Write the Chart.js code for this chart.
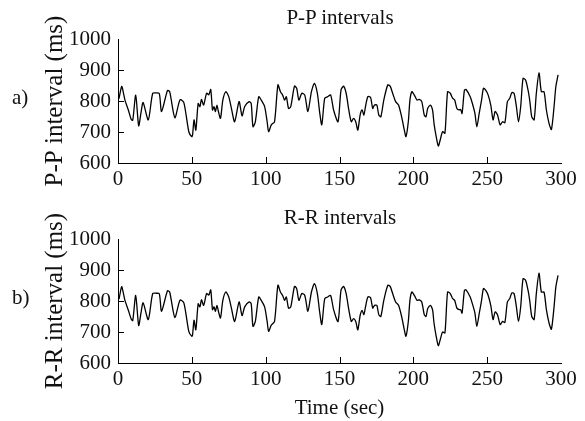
<!DOCTYPE html>
<html>
<head>
<meta charset="utf-8">
<script src="https://cdn.jsdelivr.net/npm/chart.js@4"></script>
<style>
  body { margin: 0; background: #fff; width: 585px; height: 421px; overflow: hidden; position: relative; font-family: "Liberation Serif", serif; }
  canvas { position: absolute; left: 0; }
  .lbl { position: absolute; font-size: 21px; line-height: 1; color: #111; white-space: nowrap; }
  .mid { transform: translateX(-50%); }
</style>
</head>
<body>
<canvas id="ppChart" width="585" height="200" style="top:0"></canvas>
<canvas id="rrChart" width="585" height="221" style="top:200px"></canvas>
<div class="lbl" style="left:12px;top:87px">a)</div>
<div class="lbl" style="left:12px;top:287px">b)</div>
<div class="lbl mid" style="left:340px;top:7px">P-P intervals</div>
<div class="lbl mid" style="left:340px;top:207px">R-R intervals</div>
<script>
// time stamps (sec)
const times = [0.7, 2.5, 3.6, 4.7, 7, 9, 10, 12, 14, 15.5, 17, 20.5, 23.5, 26, 28, 29.5, 33.5, 35, 38.5, 42, 44.6, 48, 50,
  50.5, 51.5, 52.7, 54.3, 55.5, 56.5, 58, 60, 61.5, 62.8, 64, 65, 66, 67, 68, 69.4, 71, 73, 75, 76.8, 79, 82, 84, 85.8, 88.8, 90.2, 91.4, 93, 95.3, 97, 99.3, 101,
  102, 103.8, 106, 108.3, 110, 111.5, 112.8, 114, 115.5, 117, 119.5, 121, 122.5, 124.5, 126.5, 128.6, 131, 133, 135, 136.5, 138, 140, 142, 144, 146, 149,
  151, 152.7, 154.5, 156.3, 158, 159.5, 161, 162.4, 164, 165.3, 166.5, 167.6, 169.2, 171, 172.5, 173.7, 175.3, 176.6, 178, 180, 182.7, 184.3, 186, 188, 190,
  192.3, 193.9, 195, 196.6, 197.7, 199, 200.7, 202.5, 204, 205.7, 207.4, 208.6, 209.7, 211.5, 213, 214, 215.3, 216.9, 218.2, 219.8, 221.4, 223.2, 225,
  226.6, 228, 229.5, 231, 232, 233, 234.6, 235.7, 238.5, 240, 241.7, 243, 244.6, 246.2, 247.5, 249, 250.7, 252.5, 254, 255.4, 257, 258.8, 260.4, 262,
  263.7, 265.3, 266.7, 268.2, 269.8, 271.2, 272.7, 274.3, 276, 277.7, 278.8, 280.2, 281.8, 283.3, 285.1, 286.7, 288.5, 290.1, 291.9, 293.5, 295.3, 296.5, 298];

// P-P interval (ms)
const ppValues = [808, 847, 828, 803, 771, 740, 738, 819, 720, 760, 795, 739, 825, 826, 824, 766, 834, 830, 746, 804, 795, 700, 685,
  690, 739, 706, 792, 782, 805, 787, 825, 820, 837, 771, 782, 766, 787, 766, 744, 803, 830, 814, 776, 733, 798, 752, 782, 798, 792, 717, 733, 814, 803, 782, 733,
  701, 723, 733, 852, 830, 819, 803, 814, 776, 782, 848, 841, 803, 825, 819, 766, 830, 857, 825, 766, 723, 809, 814, 819, 771, 733,
  835, 848, 825, 771, 733, 744, 733, 706, 755, 771, 755, 782, 814, 812, 776, 787, 787, 755, 749, 803, 852, 848, 825, 798, 787,
  744, 706, 685, 733, 803, 830, 819, 803, 805, 798, 755, 749, 776, 787, 771, 728, 690, 655, 674, 701, 696, 830, 825,
  809, 803, 776, 771, 773, 760, 835, 837, 814, 792, 760, 717, 760, 803, 841, 835, 819, 785, 739, 766, 755, 723, 733, 730,
  798, 809, 827, 825, 782, 733, 782, 873, 868, 835, 803, 749, 739, 825, 891, 830, 830, 771, 728, 708, 782, 846, 884];

// R-R interval (ms)
const rrValues = [806, 846, 826, 802, 770, 741, 737, 818, 721, 759, 794, 740, 824, 825, 823, 767, 833, 829, 747, 803, 794, 701, 686,
  691, 738, 707, 791, 781, 804, 786, 824, 819, 836, 772, 781, 767, 786, 767, 745, 802, 829, 813, 777, 734, 797, 753, 781, 797, 791, 718, 734, 813, 802, 781, 734,
  702, 722, 734, 851, 829, 818, 802, 813, 777, 781, 847, 840, 802, 824, 818, 767, 829, 856, 824, 767, 724, 808, 813, 818, 772, 734,
  834, 847, 824, 772, 734, 743, 734, 707, 754, 770, 756, 781, 813, 811, 777, 786, 786, 756, 750, 802, 851, 847, 824, 797, 786,
  745, 707, 686, 734, 802, 829, 818, 802, 804, 797, 756, 750, 775, 786, 772, 729, 691, 656, 675, 700, 697, 829, 824,
  808, 802, 777, 772, 772, 761, 834, 836, 813, 791, 761, 718, 759, 802, 840, 834, 818, 784, 740, 765, 756, 724, 734, 731,
  797, 808, 826, 824, 781, 734, 781, 872, 867, 834, 802, 750, 740, 824, 890, 829, 829, 772, 729, 709, 781, 845, 883];

const xTicks = [0, 50, 100, 150, 200, 250, 300];
const yTicks = [600, 700, 800, 900, 1000];

const fontFamily = '"Liberation Serif", "DejaVu Serif", serif';

// short tick marks pointing into the plot
const inwardTicks = {
  id: 'inwardTicks',
  afterDraw(chart) {
    const { ctx, chartArea, scales } = chart;
    ctx.save();
    ctx.strokeStyle = '#000';
    ctx.lineWidth = 1;
    ctx.beginPath();
    xTicks.forEach(v => {
      if (v <= scales.x.min || v >= scales.x.max) return;
      const x = Math.round(scales.x.getPixelForValue(v)) + 0.5;
      ctx.moveTo(x, chartArea.bottom);
      ctx.lineTo(x, chartArea.bottom - 6);
    });
    yTicks.forEach(v => {
      if (v <= scales.y.min || v >= scales.y.max) return;
      const y = Math.round(scales.y.getPixelForValue(v)) + 0.5;
      ctx.moveTo(chartArea.left, y);
      ctx.lineTo(chartArea.left + 6, y);
    });
    ctx.stroke();
    ctx.restore();
  }
};

function makePanel(canvasId, values, yTitle, showXTitle) {
  new Chart(document.getElementById(canvasId), {
    type: 'line',
    data: {
      datasets: [{
        data: times.map((t, i) => ({ x: t, y: values[i] })),
        borderColor: '#000',
        borderWidth: 1.3,
        pointRadius: 0,
        tension: 0.25,
        fill: false
      }]
    },
    options: {
      responsive: false,
      animation: false,
      devicePixelRatio: 1,
      layout: { padding: { top: 39, right: 24, left: 0, bottom: 0 } },
      plugins: { legend: { display: false }, tooltip: { enabled: false } },
      scales: {
        x: {
          type: 'linear',
          min: 0,
          max: 300,
          afterBuildTicks: s => { s.ticks = xTicks.map(v => ({ value: v })); },
          afterFit: s => { s.height = showXTitle ? 58 : 37; },
          grid: { drawOnChartArea: false, drawTicks: false },
          border: { color: '#000', width: 1 },
          ticks: { padding: 4, color: '#111', maxRotation: 0, callback: v => String(v), font: { family: fontFamily, size: 21 } },
          title: { display: showXTitle, text: 'Time (sec)', color: '#111', padding: 0, font: { family: fontFamily, size: 21 } }
        },
        y: {
          min: 600,
          max: 1000,
          afterBuildTicks: s => { s.ticks = yTicks.map(v => ({ value: v })); },
          afterFit: s => { s.width = 118; },
          grid: { drawOnChartArea: false, drawTicks: false },
          border: { color: '#000', width: 1 },
          ticks: { padding: 7, color: '#111', callback: v => String(v), font: { family: fontFamily, size: 21 } },
          title: { display: true, text: yTitle, color: '#111', padding: { top: 40, bottom: 0 }, font: { family: fontFamily, size: 25 } }
        }
      }
    },
    plugins: [inwardTicks]
  });
}

makePanel('ppChart', ppValues, 'P-P interval (ms)', false);
makePanel('rrChart', rrValues, 'R-R interval (ms)', true);
</script>
</body>
</html>
